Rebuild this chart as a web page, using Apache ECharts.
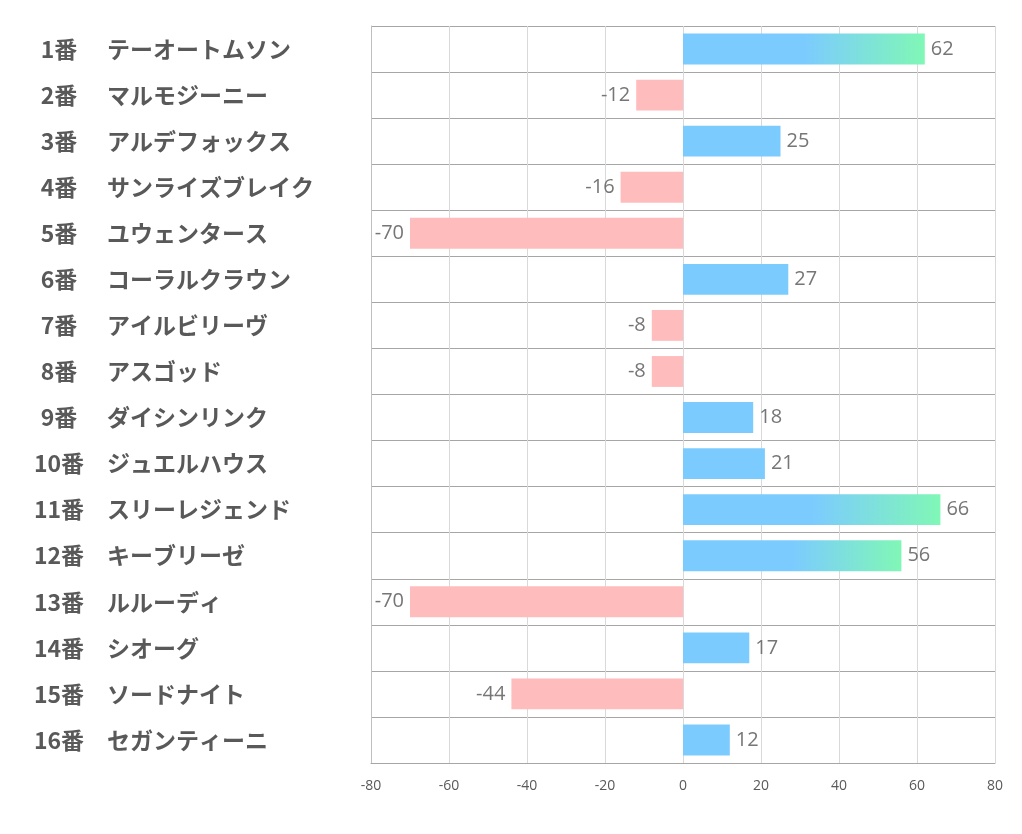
<!DOCTYPE html>
<html><head><meta charset="utf-8">
<script src="https://cdn.jsdelivr.net/npm/echarts@6/dist/echarts.min.js"></script>
<style>html,body{margin:0;padding:0;background:#fff}#c{width:1022px;height:834px}</style>
</head><body><div id="c"></div>
<script>
const numbers = ['1番','2番','3番','4番','5番','6番','7番','8番','9番','10番','11番','12番','13番','14番','15番','16番'];
const names = ['テーオートムソン','マルモジーニー','アルデフォックス','サンライズブレイク','ユウェンタース','コーラルクラウン','アイルビリーヴ','アスゴッド','ダイシンリンク','ジュエルハウス','スリーレジェンド','キーブリーゼ','ルルーディ','シオーグ','ソードナイト','セガンティーニ'];
const values = [62,-12,25,-16,-70,27,-8,-8,18,21,66,56,-70,17,-44,12];
const xTicks = [-80,-60,-40,-20,0,20,40,60,80];

const BLUE = '#7ccbff', GREEN = '#80f7b6', PINK = '#ffbcbd';
const cats = numbers.map((n,i)=>n+'|'+names[i]);
const chart = echarts.init(document.getElementById('c'));
chart.setOption({
  animation:false,
  grid:{left:371,right:27,top:26,bottom:71,containLabel:false},
  xAxis:{type:'value',min:xTicks[0],max:xTicks[xTicks.length-1],interval:20,
    axisLine:{show:true,lineStyle:{color:'#a6a6a6'}},axisTick:{show:false},
    axisLabel:{color:'#595959',fontSize:14,margin:16,fontFamily:'Open Sans'},
    splitLine:{show:true,lineStyle:{color:'#d9d9d9',width:1}}},
  yAxis:{type:'category',data:cats,inverse:true,
    axisLine:{show:true,onZero:false,lineStyle:{color:'#bfbfbf'}},axisTick:{show:false},
    splitLine:{show:true,lineStyle:{color:'#a6a6a6',width:1}},
    axisLabel:{align:'left',margin:339,
      formatter:v=>{const p=v.split('|');return '{a|'+p[0]+'}{b|'+p[1]+'}';},
      rich:{a:{width:54,align:'right',fontSize:23,fontWeight:'bold',color:'#595959',fontFamily:'Noto Sans CJK JP'},
            b:{padding:[0,0,0,21],fontSize:23,fontWeight:'bold',color:'#595959',fontFamily:'Noto Sans CJK JP'}}}},
  series:[{type:'bar',barWidth:'67%',
    data:values.map(v=>({value:v,
      itemStyle:{color: v<0?PINK:(v>50?new echarts.graphic.LinearGradient(0,0,1,0,[{offset:0,color:BLUE},{offset:0.5,color:BLUE},{offset:1,color:GREEN}]):BLUE)},
      label:{position:v<0?'left':'right'}})),
    label:{show:true,color:'#767676',fontSize:20,distance:6,fontFamily:'Open Sans'}}]
});
</script></body></html>
